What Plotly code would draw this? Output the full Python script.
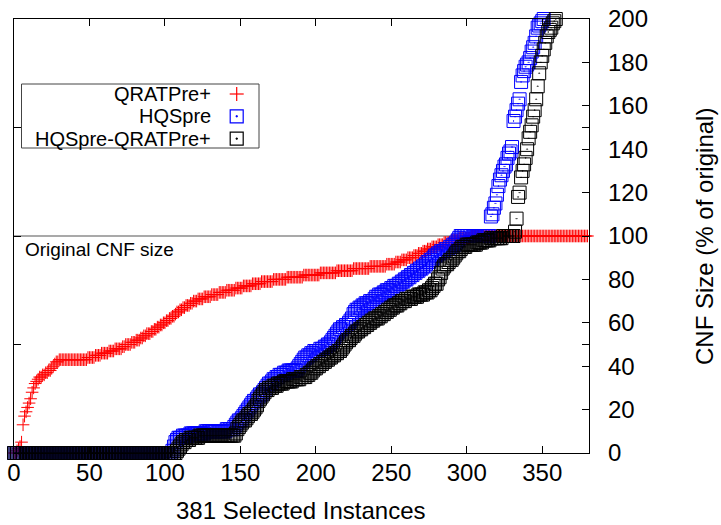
import plotly.graph_objects as go

# ---------------- data (CNF size in % of original, sorted per tool) ----------------
qratpre = [
    0, 0, 1, 2, 3, 5, 13, 17, 19, 21,
    23, 25, 28, 30, 32, 33, 34, 35, 35, 36,
    36, 37, 37, 38, 38, 39, 40, 41, 42, 42,
    43, 43, 43, 43, 43, 43, 43, 43, 43, 43,
    43, 43, 43, 43, 43, 43, 43, 43, 43, 44,
    44, 44, 44, 44, 45, 45, 45, 45, 46, 46,
    46, 46, 46, 47, 47, 47, 47, 48, 48, 48,
    48, 48, 49, 49, 50, 50, 50, 50, 51, 51,
    51, 52, 52, 52, 53, 53, 54, 54, 55, 55,
    55, 56, 56, 57, 57, 58, 58, 59, 59, 60,
    60, 61, 61, 62, 62, 63, 63, 64, 65, 65,
    66, 66, 67, 67, 68, 68, 68, 69, 69, 70,
    70, 70, 71, 71, 71, 71, 72, 72, 72, 72,
    72, 73, 73, 73, 73, 73, 74, 74, 74, 74,
    74, 75, 75, 75, 75, 75, 75, 76, 76, 76,
    76, 76, 77, 77, 77, 77, 77, 77, 78, 78,
    78, 78, 78, 78, 79, 79, 79, 79, 79, 79,
    79, 79, 80, 80, 80, 80, 80, 80, 80, 80,
    80, 81, 81, 81, 81, 81, 81, 81, 81, 81,
    81, 81, 82, 82, 82, 82, 82, 82, 82, 82,
    82, 82, 82, 83, 83, 83, 83, 83, 83, 83,
    83, 83, 83, 83, 84, 84, 84, 84, 84, 84,
    84, 84, 84, 84, 84, 85, 85, 85, 85, 85,
    85, 85, 85, 85, 85, 85, 86, 86, 86, 86,
    86, 86, 86, 86, 86, 86, 86, 87, 87, 87,
    87, 87, 87, 88, 88, 88, 88, 89, 89, 89,
    89, 90, 90, 90, 90, 91, 91, 91, 92, 92,
    92, 93, 93, 93, 94, 94, 94, 95, 95, 95,
    95, 96, 96, 96, 96, 97, 97, 97, 97, 97,
    98, 98, 98, 98, 98, 99, 99, 99, 99, 99,
    99, 99, 99, 100, 100, 100, 100, 100, 100, 100,
    100, 100, 100, 100, 100, 100, 100, 100, 100, 100,
    100, 100, 100, 100, 100, 100, 100, 100, 100, 100,
    100, 100, 100, 100, 100, 100, 100, 100, 100, 100,
    100, 100, 100, 100, 100, 100, 100, 100, 100, 100,
    100, 100, 100, 100, 100, 100, 100, 100, 100, 100,
    100, 100, 100, 100, 100, 100, 100, 100, 100, 100,
    100, 100, 100, 100, 100, 100, 100, 100, 100, 100,
    100,
]

# HQSpre: points above 200 % are outside the plotted range and not shown
hqspre = [
    0, 0, 0, 0, 0, 0, 0, 0, 0, 0,
    0, 0, 0, 0, 0, 0, 0, 0, 0, 0,
    0, 0, 0, 0, 0, 0, 0, 0, 0, 0,
    0, 0, 0, 0, 0, 0, 0, 0, 0, 0,
    0, 0, 0, 0, 0, 0, 0, 0, 0, 0,
    0, 0, 0, 0, 0, 0, 0, 0, 0, 0,
    0, 0, 0, 0, 0, 0, 0, 0, 0, 0,
    0, 0, 0, 0, 0, 0, 0, 0, 0, 0,
    0, 0, 0, 0, 0, 0, 0, 0, 0, 0,
    0, 0, 0, 0, 0, 0, 0, 0, 0, 0,
    0, 0, 0, 0, 0, 1, 3, 5, 6, 7,
    7, 7, 8, 8, 8, 8, 8, 9, 9, 9,
    9, 9, 9, 9, 9, 9, 9, 10, 10, 10,
    10, 10, 10, 10, 10, 10, 10, 10, 10, 10,
    10, 11, 11, 11, 11, 11, 12, 13, 14, 15,
    15, 16, 17, 18, 19, 20, 21, 22, 23, 24,
    24, 25, 26, 27, 27, 28, 29, 30, 31, 32,
    32, 33, 34, 34, 35, 35, 36, 36, 36, 37,
    37, 37, 38, 38, 38, 38, 38, 38, 39, 40,
    41, 42, 43, 44, 44, 45, 45, 46, 46, 47,
    47, 47, 47, 48, 48, 48, 49, 49, 50, 50,
    51, 52, 53, 54, 55, 56, 57, 57, 58, 58,
    59, 59, 60, 61, 62, 64, 65, 66, 66, 67,
    67, 68, 68, 69, 69, 69, 70, 70, 70, 71,
    72, 72, 73, 73, 73, 74, 74, 75, 75, 75,
    76, 76, 77, 77, 77, 78, 78, 79, 79, 80,
    80, 81, 81, 82, 82, 83, 83, 84, 84, 85,
    85, 86, 86, 87, 88, 88, 89, 89, 90, 91,
    91, 92, 92, 93, 93, 93, 94, 94, 94, 95,
    95, 96, 96, 97, 98, 99, 100, 100, 100, 100,
    100, 100, 100, 100, 100, 100, 100, 100, 100, 100,
    100, 100, 100, 100, 100, 100, 109, 110, 113, 115,
    119, 123, 126, 128, 130, 132, 133, 136, 138, 139,
    141, 153, 155, 158, 161, 163, 171, 174, 176, 178,
    179, 180, 182, 185, 187, 189, 192, 196, 197, 198,
    199, 200,
]

hqspre_qratpre = [
    0, 0, 0, 0, 0, 0, 0, 0, 0, 0,
    0, 0, 0, 0, 0, 0, 0, 0, 0, 0,
    0, 0, 0, 0, 0, 0, 0, 0, 0, 0,
    0, 0, 0, 0, 0, 0, 0, 0, 0, 0,
    0, 0, 0, 0, 0, 0, 0, 0, 0, 0,
    0, 0, 0, 0, 0, 0, 0, 0, 0, 0,
    0, 0, 0, 0, 0, 0, 0, 0, 0, 0,
    0, 0, 0, 0, 0, 0, 0, 0, 0, 0,
    0, 0, 0, 0, 0, 0, 0, 0, 0, 0,
    0, 0, 0, 0, 0, 0, 0, 0, 0, 0,
    0, 0, 0, 0, 0, 0, 0, 0, 1, 2,
    3, 4, 5, 5, 6, 6, 6, 7, 7, 7,
    7, 7, 7, 8, 8, 8, 8, 8, 8, 8,
    8, 8, 8, 8, 8, 8, 8, 8, 8, 8,
    8, 8, 8, 8, 8, 8, 8, 9, 11, 12,
    13, 14, 15, 15, 16, 17, 18, 18, 19, 20,
    21, 22, 24, 25, 26, 27, 28, 29, 29, 30,
    30, 30, 31, 31, 31, 32, 32, 32, 32, 33,
    33, 33, 33, 33, 33, 34, 34, 34, 34, 34,
    35, 35, 35, 35, 36, 36, 37, 37, 38, 39,
    39, 40, 40, 41, 41, 42, 42, 43, 43, 44,
    44, 45, 45, 46, 46, 47, 47, 48, 49, 50,
    51, 52, 52, 53, 54, 54, 55, 56, 56, 57,
    57, 58, 58, 59, 59, 60, 60, 61, 61, 62,
    62, 62, 63, 63, 64, 64, 65, 65, 66, 66,
    67, 67, 68, 68, 68, 69, 69, 70, 70, 70,
    71, 71, 71, 71, 72, 72, 72, 72, 73, 73,
    73, 73, 74, 74, 74, 75, 75, 76, 77, 78,
    78, 80, 81, 83, 85, 86, 87, 87, 88, 89,
    89, 90, 91, 92, 93, 93, 94, 95, 95, 95,
    96, 96, 96, 96, 96, 96, 96, 97, 97, 97,
    97, 98, 98, 98, 98, 98, 99, 99, 99, 99,
    99, 99, 99, 99, 100, 100, 100, 100, 100, 100,
    100, 100, 102, 108, 118, 120, 127, 130, 133, 136,
    140, 145, 148, 151, 155, 158, 163, 169, 175, 180,
    183, 186, 189, 192, 194, 195, 196, 198, 199, 200,
]

series_names = ["QRATPre+", "HQSpre", "HQSpre-QRATPre+"]
series_values = [qratpre, hqspre, hqspre_qratpre]
series_colors = ["#ff0000", "#0000ff", "#000000"]
series_symbols = ["cross-thin", "square-open-dot", "square-open-dot"]
series_sizes = [9, 13, 13]

x_ticks = [0, 50, 100, 150, 200, 250, 300, 350]
y_ticks = [0, 20, 40, 60, 80, 100, 120, 140, 160, 180, 200]
n_instances = 381
original_size = 100
x_title = "381 Selected Instances"
y_title = "CNF Size (% of original)"

FONT = "Liberation Sans, Arial, Helvetica, sans-serif"

fig = go.Figure()
for name, vals, col, sym, sz in zip(series_names, series_values, series_colors,
                                     series_symbols, series_sizes):
    fig.add_trace(go.Scatter(
        x=list(range(len(vals))), y=vals, mode="markers", name=name,
        cliponaxis=False, showlegend=False,
        marker=dict(symbol=sym, size=sz, color=col,
                    line=dict(color=col, width=1)),
    ))
# empty helper trace so that the right-hand (labelled) y axis is drawn
fig.add_trace(go.Scatter(x=[None], y=[None], yaxis="y2", mode="markers",
                         showlegend=False, hoverinfo="skip"))

# plot-area geometry in pixels
L, T, W, H = 14, 19, 575, 434


def pxx(v):
    return (v - L) / W


def pxy(v):
    return (T + H - v) / H


shapes = [
    dict(type="line", xref="x", yref="y", x0=0, x1=n_instances,
         y0=original_size, y1=original_size, layer="below",
         line=dict(color="#555555", width=1.2)),
    # legend box
    dict(type="rect", xref="paper", yref="paper",
         x0=pxx(21.5), x1=pxx(259), y0=pxy(84), y1=pxy(148),
         line=dict(color="#444444", width=1), fillcolor="rgba(0,0,0,0)"),
]
annotations = [
    dict(x=0, y=original_size, xref="x", yref="y", xanchor="left",
         yanchor="middle", xshift=9, yshift=-13, text="Original CNF size",
         showarrow=False, font=dict(family=FONT, size=19, color="black")),
    dict(x=pxx(301), y=pxy(524.5), xref="paper", yref="paper", xanchor="center",
         yanchor="bottom", text=x_title, showarrow=False, borderpad=0,
         font=dict(family=FONT, size=24, color="black")),
    dict(x=pxx(705), y=pxy(237), xref="paper", yref="paper", xanchor="center",
         yanchor="middle", text=y_title, textangle=-90, showarrow=False,
         font=dict(family=FONT, size=24, color="black")),
]

rows = [94.0, 116.3, 138.6]
gx = 236.7
for name, col, sym, ry in zip(series_names, series_colors, series_symbols, rows):
    annotations.append(dict(x=pxx(212), y=pxy(ry), xref="paper", yref="paper",
                            xanchor="right", yanchor="middle", text=name,
                            showarrow=False, borderpad=0,
                            font=dict(family=FONT, size=20, color="black")))
    if sym.startswith("cross"):
        shapes.append(dict(type="line", xref="paper", yref="paper",
                           x0=pxx(gx - 7), x1=pxx(gx + 7), y0=pxy(ry), y1=pxy(ry),
                           line=dict(color=col, width=1.2)))
        shapes.append(dict(type="line", xref="paper", yref="paper",
                           x0=pxx(gx), x1=pxx(gx), y0=pxy(ry - 7), y1=pxy(ry + 7),
                           line=dict(color=col, width=1.2)))
    else:
        shapes.append(dict(type="rect", xref="paper", yref="paper",
                           x0=pxx(gx - 6.5), x1=pxx(gx + 6.5),
                           y0=pxy(ry - 6.5), y1=pxy(ry + 6.5),
                           line=dict(color=col, width=1.2)))
        shapes.append(dict(type="rect", xref="paper", yref="paper",
                           x0=pxx(gx - 0.6), x1=pxx(gx + 0.6),
                           y0=pxy(ry - 0.6), y1=pxy(ry + 0.6),
                           line=dict(color=col, width=1), fillcolor=col))

fig.update_layout(
    width=721, height=525,
    margin=dict(l=L, r=721 - L - W, t=T, b=525 - T - H, pad=0,
                autoexpand=False),
    paper_bgcolor="white", plot_bgcolor="white",
    font=dict(family=FONT, size=24, color="black"),
    showlegend=False,
    xaxis=dict(range=[0, n_instances], tickvals=x_ticks, ticks="inside",
               ticklen=7, tickcolor="black", showline=True, linecolor="black",
               linewidth=1, mirror="ticks", showgrid=False, zeroline=False,
               tickfont=dict(size=24), ticklabelstandoff=-2,
               automargin=False),
    yaxis=dict(range=[0, 200], tickvals=[0, 50, 100, 150, 200], ticks="inside",
               ticklen=7, tickcolor="black", showline=True, linecolor="black",
               linewidth=1, mirror="ticks", showgrid=False, zeroline=False,
               showticklabels=False, automargin=False),
    yaxis2=dict(range=[0, 200], tickvals=y_ticks, overlaying="y", side="right",
                anchor="x", ticks="inside", ticklen=7, tickcolor="black",
                showline=False, showgrid=False, zeroline=False,
                tickfont=dict(size=24), ticklabelstandoff=18,
                automargin=False),
    shapes=shapes, annotations=annotations,
)

fig.write_html("out.html",
               config={"displayModeBar": False},
               post_script="document.body.style.margin='0px';")
